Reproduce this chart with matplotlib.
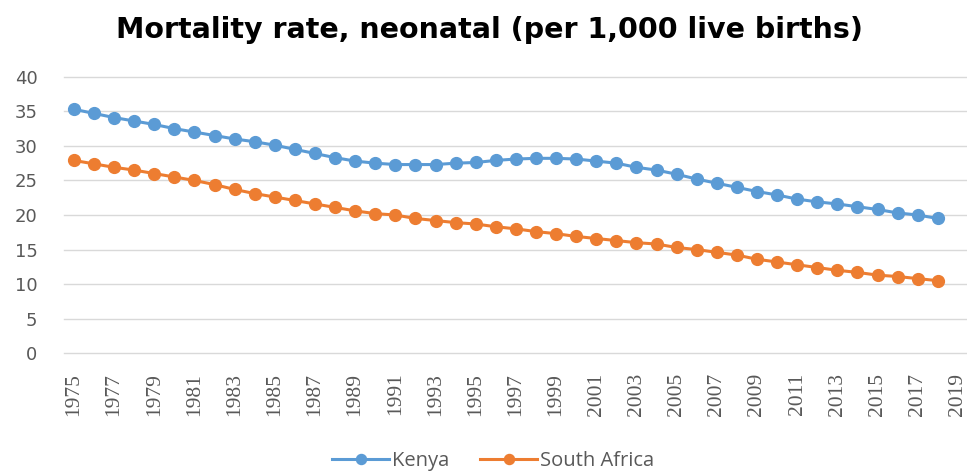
import numpy as np
import matplotlib.pyplot as plt

plt.rcParams['font.family'] = ['Open Sans', 'DejaVu Sans']

years = list(range(1975, 2019))
kenya = [35.3, 34.7, 34.1, 33.6, 33.1, 32.5, 32.0, 31.5, 31.0, 30.6,
         30.1, 29.5, 28.9, 28.3, 27.8, 27.5, 27.3, 27.3, 27.3, 27.5,
         27.6, 27.9, 28.1, 28.2, 28.2, 28.1, 27.8, 27.5, 26.9, 26.5,
         25.9, 25.2, 24.6, 24.0, 23.4, 22.9, 22.3, 21.9, 21.6, 21.2,
         20.8, 20.3, 20.0, 19.5]
south_africa = [27.9, 27.4, 26.9, 26.5, 26.0, 25.5, 25.0, 24.4, 23.7, 23.1,
                22.6, 22.1, 21.6, 21.1, 20.6, 20.2, 20.0, 19.5, 19.2, 18.9,
                18.7, 18.3, 18.0, 17.6, 17.3, 16.9, 16.6, 16.3, 16.0, 15.8,
                15.3, 15.0, 14.6, 14.2, 13.6, 13.2, 12.8, 12.4, 12.0, 11.7,
                11.3, 11.1, 10.8, 10.5]
xticks = list(range(1975, 2020, 2))

fig = plt.figure(figsize=(9.67, 4.71), dpi=100)
ax = fig.add_axes([0.066, 0.25, 0.935, 0.587])

ax.plot(years, kenya, color='#5B9BD5', lw=2.2, marker='o', ms=8.5, label='Kenya')
ax.plot(years, south_africa, color='#ED7D31', lw=2.2, marker='o', ms=8.5, label='South Africa')

ax.set_xlim(1974.5, 2019.5)
ax.set_ylim(0, 40)
ax.set_yticks(range(0, 41, 5))
ax.set_yticklabels([str(v) for v in range(0, 41, 5)], family='DejaVu Sans', fontsize=13)
ax.set_xticks(xticks)
ax.set_xticklabels([str(y) for y in xticks], rotation=90, family='Liberation Serif', fontsize=15.5)
ax.tick_params(length=0, colors='#595959')
ax.tick_params(axis='y', pad=19)
ax.tick_params(axis='x', pad=14)
ax.grid(axis='y', color='#D9D9D9', lw=1)
for gl in ax.get_ygridlines():
    gl.set_clip_on(False)
ax.set_axisbelow(True)
for s in ax.spines.values():
    s.set_visible(False)

fig.suptitle('Mortality rate, neonatal (per 1,000 live births)', x=0.506, y=0.965,
             fontsize=20.5, fontweight='bold', color='black', family='DejaVu Sans')

ax.legend(loc='center', bbox_to_anchor=(0.475, -0.39), ncol=2, frameon=False,
          fontsize=14.5, handlelength=2.85, columnspacing=1.5, handletextpad=0.15,
          labelcolor='#595959', borderpad=0, markerscale=0.85)

fig.savefig('out.png', dpi=100)
